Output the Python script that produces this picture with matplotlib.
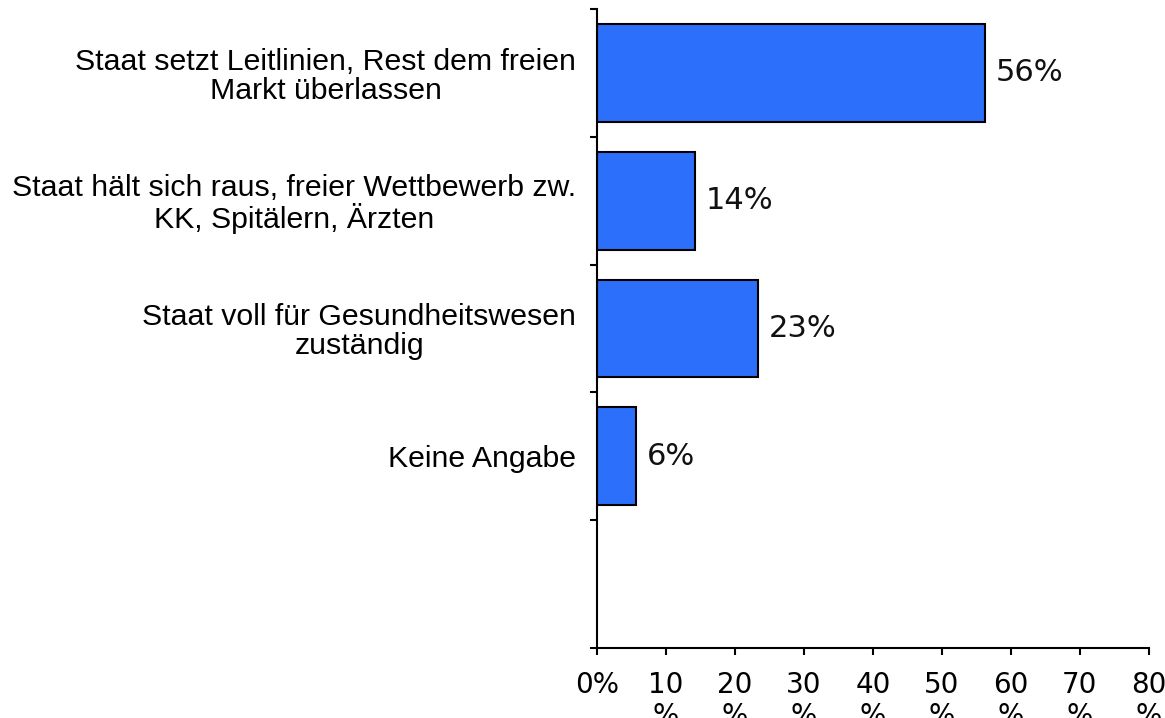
import numpy as np
import matplotlib.pyplot as plt

# Daten
kategorien = ['Staat setzt Leitlinien, Rest dem freien\nMarkt überlassen',
              'Staat hält sich raus, freier Wettbewerb zw.\nKK, Spitälern, Ärzten',
              'Staat voll für Gesundheitswesen\nzuständig',
              'Keine Angabe']
werte = [56.2, 14.2, 23.3, 5.7]
x_ticks = [0, 10, 20, 30, 40, 50, 60, 70, 80]
x_labels = ['0%', '10\n%', '20\n%', '30\n%', '40\n%', '50\n%', '60\n%', '70\n%', '80\n%']

fig = plt.figure(figsize=(11.65, 7.18), dpi=100)
ax = fig.add_axes([0.5124, 0.0979, 0.4738, 0.8895])

pos = np.arange(len(kategorien))
ax.barh(pos, werte, height=0.765, color='#2B6FFB', edgecolor='black', linewidth=1.5)

for p, w in zip(pos, werte):
    ax.text(w + 1.6, p, f'{round(w)}%', va='center', ha='left',
            fontsize=22, family='DejaVu Sans', color='#111111')

ax.set_xlim(0, 80)
ax.set_ylim(4.5, -0.5)

# Achsen
ax.set_yticks(np.arange(-0.5, 5, 1))
ax.set_yticklabels([])
ax.set_yticks(pos, minor=True)
ax.set_yticklabels(kategorien, minor=True, fontsize=21.8, family='Liberation Sans',
                   multialignment='center', linespacing=1.05)
ax.tick_params(axis='y', which='minor', length=0, pad=15)
ax.tick_params(axis='y', which='major', length=5, width=1.5)

ax.set_xticks(x_ticks)
ax.set_xticklabels(x_labels, fontsize=20, family='DejaVu Sans', multialignment='center',
                   linespacing=1.1)
ax.tick_params(axis='x', length=5, width=1.5, pad=12)

for s in ['top', 'right']:
    ax.spines[s].set_visible(False)
for s in ['left', 'bottom']:
    ax.spines[s].set_linewidth(1.5)

fig.savefig('out.png', dpi=100)
